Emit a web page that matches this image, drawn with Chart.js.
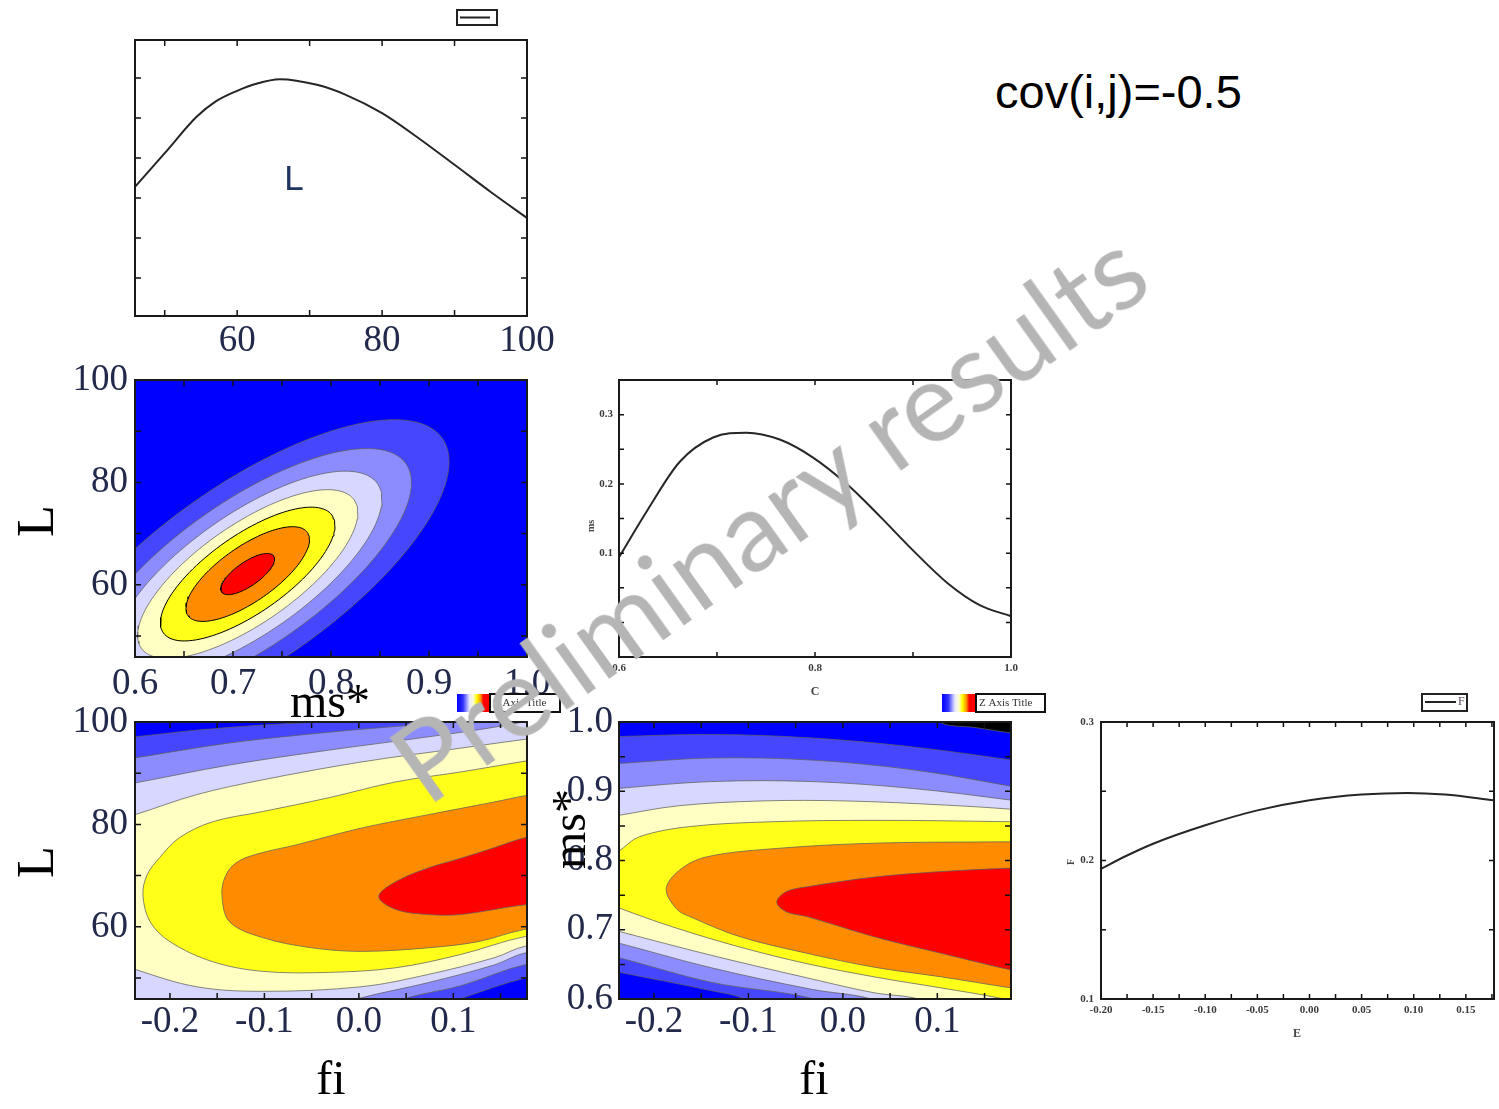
<!DOCTYPE html>
<html>
<head>
<meta charset="utf-8">
<script src="https://cdn.jsdelivr.net/npm/chart.js@4.4.1/dist/chart.umd.min.js"></script>
<style>
body { margin: 0; background: #fff; }
#page { position: relative; width: 1499px; height: 1109px; overflow: hidden; }
.box { position: absolute; }
.box canvas { display: block; }
#cov { position: absolute; left: 995px; top: 68px; font: 47px "Liberation Sans", Arial, sans-serif; line-height: 1; color: #000; white-space: nowrap; z-index: 5; }
#mark { position: absolute; left: 767px; top: 514px; transform: translate(-50%, -50%) rotate(-35.5deg);
        font-family: Lato, "Liberation Sans", sans-serif; font-size: 100px; line-height: 1; color: #b5b5b5;
        white-space: nowrap; z-index: 6; pointer-events: none; }
</style>
</head>
<body>
<div id="page">
  <div class="box" id="b1"><canvas id="c1"></canvas></div>
  <div class="box" id="b2"><canvas id="c2"></canvas></div>
  <div class="box" id="b3"><canvas id="c3"></canvas></div>
  <div class="box" id="b4"><canvas id="c4"></canvas></div>
  <div class="box" id="b5"><canvas id="c5"></canvas></div>
  <div class="box" id="b6"><canvas id="c6"></canvas></div>
  <div id="cov">cov(i,j)=-0.5</div>
  <div id="mark">Preliminary results</div>
</div>
<script>
// marginal of L (top left)
const lValues = [45.9, 50, 54.4, 57, 60, 62.5, 65.9, 71, 75, 80, 85, 90, 95, 100];
const lCurve  = [3.28, 4.12, 5.03, 5.41, 5.68, 5.85, 5.97, 5.83, 5.58, 5.12, 4.5, 3.83, 3.15, 2.5];

// marginal of C / ms (middle)
const cValues = [0.6, 0.629, 0.662, 0.696, 0.730, 0.764, 0.798, 0.833, 0.867, 0.9, 0.935, 0.968, 1.0];
const msCurve = [0.094, 0.162, 0.232, 0.267, 0.274, 0.264, 0.238, 0.199, 0.152, 0.104, 0.057, 0.025, 0.009];

// marginal of E / F (bottom right)
const eValues = [-0.2, -0.175, -0.15, -0.1, -0.05, 0.0, 0.05, 0.094, 0.13, 0.177];
const fCurve  = [0.194, 0.2036, 0.2121, 0.2254, 0.2362, 0.2435, 0.2476, 0.2488, 0.2476, 0.2435];

// contour band colours, outer -> inner
const bandColors = ['#4646ff', '#8c8cff', '#d7d7ff', '#ffffc3', '#ffff1a', '#ff8c00', '#ff0000'];

// ms* vs L : elliptic contours (centre, spreads, correlation, level radii)
const msLCenter = [0.715, 62.1];
const msLSigma = [0.0274, 4.02];
const msLRho = 0.727;
const msLRadii = [7.5, 6.1, 5.0, 4.1, 3.25, 2.3, 1];

// fi vs L : contour outlines, [fi, L], outer -> inner
const fiLContours = [
  [[0.23, 104], [0.23, 51.5], [0.176, 50.0], [0.108, 46.0], [0.06, 43], [-0.26, 43], [-0.26, 96.7], [-0.237, 97.1], [-0.172, 98.4], [-0.102, 99.4], [-0.032, 100.2], [0.05, 102]],
  [[0.23, 104], [0.23, 53.5], [0.176, 52.6], [0.108, 48.5], [0.049, 46.0], [0.01, 43], [-0.26, 43], [-0.26, 92.4], [-0.237, 93.0], [-0.137, 95.9], [-0.032, 98.0], [0.056, 99.4], [0.091, 100], [0.15, 102]],
  [[0.23, 102], [0.23, 55.8], [0.176, 54.9], [0.144, 52.6], [0.0735, 49.1], [0.0, 46.0], [-0.05, 43], [-0.26, 43], [-0.26, 87.4], [-0.237, 88.1], [-0.137, 91.6], [-0.032, 94.5], [0.0735, 97.1], [0.144, 99.0]],
  [[0.23, 98], [0.23, 57], [0.176, 56.2], [0.144, 54.0], [0.0735, 50.7], [0.003, 48.3], [-0.102, 47.4], [-0.172, 48.3], [-0.237, 51.7], [-0.26, 53.5], [-0.26, 80.8], [-0.237, 81.9], [-0.172, 85.8], [-0.102, 88.7], [0.003, 92.2], [0.108, 94.9], [0.171, 96.5]],
  [[0.23, 94], [0.23, 59], [0.176, 58.1], [0.108, 54.6], [0.039, 52.0], [-0.032, 51.1], [-0.102, 51.3], [-0.155, 53.2], [-0.2, 57.1], [-0.221, 61.0], [-0.2286, 66.3], [-0.224, 70.2], [-0.211, 73.5], [-0.19, 77.4], [-0.155, 80.5], [-0.102, 82.5], [-0.032, 85.2], [0.039, 88.3], [0.108, 90.25], [0.171, 92.2]],
  [[0.23, 87], [0.23, 60.5], [0.176, 59.5], [0.126, 57.1], [0.0735, 55.9], [0.003, 55.2], [-0.05, 55.9], [-0.102, 57.9], [-0.137, 61.0], [-0.145, 66.3], [-0.141, 70.0], [-0.13, 72.5], [-0.108, 74.2], [-0.0665, 76.0], [0.003, 79.3], [0.0735, 81.9], [0.144, 84.4], [0.176, 85.6]],
  [[0.23, 79], [0.23, 64.8], [0.176, 64.3], [0.108, 62.4], [0.0735, 62.4], [0.039, 63.4], [0.021, 65.9], [0.039, 68.8], [0.0735, 71.5], [0.108, 73.4], [0.144, 75.5], [0.176, 77.4]]
];

// fi vs ms* : contour outlines, [fi, ms*], outer -> inner (first one is blue over black)
const fiMsContours = [
  [[0.21, 0.57], [-0.26, 0.57], [-0.26, 1.03], [0.09, 1.03], [0.102, 1.0], [0.14, 0.992], [0.179, 0.984], [0.21, 0.978]],
  [[0.21, 0.57], [-0.07, 0.57], [-0.104, 0.6], [-0.139, 0.612], [-0.238, 0.639], [-0.26, 0.645], [-0.26, 0.978], [-0.238, 0.979], [-0.139, 0.982], [-0.033, 0.977], [0.074, 0.964], [0.179, 0.945], [0.21, 0.938]],
  [[0.21, 0.57], [0.0, 0.575], [-0.03, 0.6], [-0.139, 0.624], [-0.238, 0.660], [-0.26, 0.666], [-0.26, 0.938], [-0.238, 0.940], [-0.139, 0.948], [-0.033, 0.945], [0.074, 0.931], [0.179, 0.907], [0.21, 0.898]],
  [[0.21, 0.57], [0.06, 0.578], [0.03, 0.6], [-0.033, 0.614], [-0.139, 0.645], [-0.238, 0.681], [-0.26, 0.688], [-0.26, 0.90], [-0.238, 0.904], [-0.139, 0.914], [-0.033, 0.914], [0.074, 0.904], [0.179, 0.887], [0.21, 0.88]],
  [[0.21, 0.57], [0.11, 0.58], [0.08, 0.6], [0.033, 0.609], [-0.033, 0.629], [-0.139, 0.663], [-0.238, 0.698], [-0.26, 0.706], [-0.26, 0.86], [-0.238, 0.865], [-0.174, 0.879], [-0.086, 0.886], [0.003, 0.886], [0.109, 0.880], [0.179, 0.874], [0.21, 0.87]],
  [[0.21, 0.585], [0.167, 0.601], [0.104, 0.616], [0.033, 0.632], [-0.038, 0.651], [-0.109, 0.675], [-0.18, 0.704], [-0.238, 0.732], [-0.26, 0.745], [-0.26, 0.80], [-0.238, 0.813], [-0.216, 0.834], [-0.162, 0.849], [-0.074, 0.856], [0.033, 0.858], [0.179, 0.856], [0.21, 0.855]],
  [[0.21, 0.61], [0.178, 0.616], [0.104, 0.632], [0.033, 0.646], [-0.038, 0.666], [-0.109, 0.690], [-0.162, 0.719], [-0.176, 0.73], [-0.187, 0.759], [-0.173, 0.786], [-0.145, 0.805], [-0.074, 0.817], [0.033, 0.825], [0.178, 0.827], [0.21, 0.827]],
  [[0.21, 0.635], [0.178, 0.642], [0.104, 0.666], [0.033, 0.690], [-0.038, 0.719], [-0.06, 0.726], [-0.070, 0.740], [-0.06, 0.755], [-0.038, 0.762], [0.033, 0.776], [0.104, 0.784], [0.178, 0.789], [0.21, 0.79]]
];

// axis ranges, ticks and labels
const lRange = [45.9, 100];
const msRange = [0.6, 1.0];
const fiRange = [-0.237, 0.178];
const lTicks = [50, 60, 70, 80, 90, 100];
const lLabels = [60, 80, 100];
const topYTicks = [1, 2, 3, 4, 5, 6];
const msTicks = [0.6, 0.65, 0.7, 0.75, 0.8, 0.85, 0.9, 0.95, 1.0];
const msLabels = [0.6, 0.7, 0.8, 0.9, 1.0];
const fiTicks = [-0.2, -0.15, -0.1, -0.05, 0, 0.05, 0.1, 0.15];
const fiLabels = [-0.2, -0.1, 0, 0.1];
const cTicks = [0.6, 0.7, 0.8, 0.9, 1.0];
const cLabels = [0.6, 0.8, 1.0];
const msMargTicks = [0, 0.05, 0.1, 0.15, 0.2, 0.25, 0.3, 0.35];
const msMargLabels = [0.1, 0.2, 0.3];
const eTicks = [-0.2, -0.175, -0.15, -0.125, -0.1, -0.075, -0.05, -0.025, 0, 0.025, 0.05, 0.075, 0.1, 0.125, 0.15, 0.175];
const eLabels = [-0.2, -0.15, -0.1, -0.05, 0, 0.05, 0.1, 0.15];
const fTicks = [0.1, 0.15, 0.2, 0.25, 0.3];
const fLabels = [0.1, 0.2, 0.3];

const bigTick = { color: '#22294a', font: { family: 'Liberation Serif', size: 37, lineHeight: 1 } };
const smallTick = { color: '#3a3a3a', font: { family: 'Liberation Serif', size: 11, weight: 'bold', lineHeight: 1 } };

function axis(range, ticks, labels, digits, size, pad, style) {
  return {
    type: 'linear', min: range[0], max: range[1],
    afterFit: s => { if (s.isHorizontal()) s.height = size; else s.width = size; },
    afterBuildTicks: s => { s.ticks = ticks.map(v => ({ value: v })); },
    grid: { display: false, drawTicks: false },
    border: { display: false },
    ticks: {
      autoSkip: false, maxRotation: 0, minRotation: 0, padding: pad,
      color: style.color, font: style.font,
      callback: v => labels.some(l => Math.abs(l - v) < 1e-9) ? v.toFixed(digits) : ''
    }
  };
}

function curveSet(xs, ys) {
  return { data: xs.map((x, i) => ({ x, y: ys[i] })), showLine: true, borderColor: '#262626',
           borderWidth: 2, cubicInterpolationMode: 'monotone', pointRadius: 0, fill: false };
}

function bandSet(pts, color, line, order, tension) {
  const data = pts.map(p => ({ x: p[0], y: p[1] }));
  data.push({ x: data[0].x, y: data[0].y });
  return { data, showLine: true, fill: 'shape', backgroundColor: color, borderColor: line,
           borderWidth: 1, tension, pointRadius: 0, clip: 0, order };
}

function ellipse(center, sigma, rho, r) {
  const pts = [];
  for (let k = 0; k < 120; k++) {
    const t = 2 * Math.PI * k / 120;
    pts.push([center[0] + r * sigma[0] * Math.cos(t),
              center[1] + r * sigma[1] * (rho * Math.cos(t) + Math.sqrt(1 - rho * rho) * Math.sin(t))]);
  }
  return pts;
}

const lineGrey = 'rgba(95,95,95,0.75)';

const msLSets = msLRadii.map((r, i) =>
  bandSet(ellipse(msLCenter, msLSigma, msLRho, r), bandColors[i], i >= 4 ? '#000' : lineGrey, msLRadii.length - i, 0));
const fiLSets = fiLContours.map((c, i) => bandSet(c, bandColors[i], lineGrey, fiLContours.length - i, 0.35));
const fiMsColors = ['#0000ff'].concat(bandColors);
const fiMsSets = fiMsContours.map((c, i) => bandSet(c, fiMsColors[i], lineGrey, fiMsContours.length - i, 0.35));

function deco(p) {
  const ox = p.box[0], oy = p.box[1];
  return {
    id: 'deco' + p.id,
    beforeDatasetsDraw(chart) {
      const a = chart.chartArea, ctx = chart.ctx;
      if (p.bg) {
        ctx.save();
        ctx.fillStyle = p.bg;
        ctx.fillRect(a.left, a.top, a.right - a.left, a.bottom - a.top);
        ctx.restore();
      }
    },
    afterDatasetsDraw(chart) {
      const a = chart.chartArea, ctx = chart.ctx;
      const xs = chart.scales.x, ys = chart.scales.y;
      const tl = p.tick;
      ctx.save();
      ctx.strokeStyle = '#111';
      ctx.lineWidth = 1.5;
      ctx.beginPath();
      xs.ticks.forEach(t => {
        const x = xs.getPixelForValue(t.value);
        ctx.moveTo(x, a.bottom); ctx.lineTo(x, a.bottom - tl);
        ctx.moveTo(x, a.top); ctx.lineTo(x, a.top + tl);
      });
      ys.ticks.forEach(t => {
        const y = ys.getPixelForValue(t.value);
        ctx.moveTo(a.left, y); ctx.lineTo(a.left + tl, y);
        ctx.moveTo(a.right, y); ctx.lineTo(a.right - tl, y);
      });
      ctx.stroke();
      ctx.lineWidth = 2;
      ctx.strokeStyle = '#1a1a1a';
      ctx.strokeRect(a.left, a.top, a.right - a.left, a.bottom - a.top);

      if (p.legend) {
        const g = p.legend;
        ctx.lineWidth = 2;
        ctx.strokeStyle = '#222';
        ctx.strokeRect(g.box[0] - ox, g.box[1] - oy, g.box[2] - g.box[0], g.box[3] - g.box[1]);
        ctx.beginPath();
        ctx.moveTo(g.line[0] - ox, g.line[2] - oy); ctx.lineTo(g.line[1] - ox, g.line[2] - oy);
        ctx.stroke();
        if (g.label) {
          ctx.fillStyle = '#5a4a5a';
          ctx.font = '12px "Liberation Serif"';
          ctx.textBaseline = 'middle';
          ctx.textAlign = 'left';
          ctx.fillText(g.label, g.line[1] + 2 - ox, g.line[2] - oy);
        }
      }
      if (p.colorbar) {
        const c = p.colorbar;
        const x0 = c[0] - ox, y0 = c[1] - oy, x1 = c[2] - ox, y1 = c[3] - oy, x2 = c[4] - ox;
        const grad = ctx.createLinearGradient(x0, 0, x1, 0);
        grad.addColorStop(0, '#0000ff');
        grad.addColorStop(0.18, '#3030ff');
        grad.addColorStop(0.38, '#e8e8ff');
        grad.addColorStop(0.5, '#ffffd0');
        grad.addColorStop(0.6, '#ffff00');
        grad.addColorStop(0.72, '#ff9000');
        grad.addColorStop(0.8, '#ff0000');
        grad.addColorStop(1, '#ff0000');
        ctx.fillStyle = grad;
        ctx.fillRect(x0, y0, x1 - x0, y1 - y0);
        ctx.fillStyle = '#fff';
        ctx.fillRect(x1, y0, x2 - x1, y1 - y0);
        ctx.lineWidth = 2;
        ctx.strokeStyle = '#111';
        ctx.strokeRect(x1, y0, x2 - x1, y1 - y0);
        ctx.fillStyle = '#333';
        ctx.font = '11px "Liberation Serif"';
        ctx.textBaseline = 'middle';
        ctx.textAlign = 'left';
        ctx.fillText('Z Axis Title', x1 + 3, (y0 + y1) / 2);
      }
      (p.texts || []).forEach(t => {
        ctx.save();
        ctx.translate(t.x - ox, t.y - oy);
        if (t.rot) ctx.rotate(t.rot);
        ctx.font = t.font;
        ctx.fillStyle = t.color || '#000';
        ctx.textAlign = 'center';
        ctx.textBaseline = 'alphabetic';
        ctx.fillText(t.t, 0, 0);
        ctx.restore();
      });
      ctx.restore();
    }
  };
}

const titleFont = '48px "Liberation Serif"';
const up = -Math.PI / 2;

const panels = [
  { id: 1, box: [0, 0, 565, 372], area: [135, 40, 527, 316], tick: 6,
    x: axis(lRange, lTicks, lLabels, 0, 56, 7, bigTick),
    y: axis([0.05, 6.95], topYTicks, [], 0, 135, 7, bigTick),
    datasets: [curveSet(lValues, lCurve)],
    legend: { box: [457, 10, 497, 25], line: [460, 490, 17.5] },
    texts: [{ t: 'L', x: 294, y: 190, font: '35px "Liberation Sans"', color: '#1d3461' }] },
  { id: 2, box: [0, 335, 565, 728], area: [135, 380, 527, 657], tick: 6, bg: '#0000ff',
    x: axis(msRange, msTicks, msLabels, 1, 71, 9, bigTick),
    y: axis(lRange, lTicks, lLabels, 0, 135, 7, bigTick),
    datasets: msLSets,
    texts: [{ t: 'L', x: 53, y: 521, rot: up, font: '52px "Liberation Serif"' },
            { t: 'ms*', x: 330, y: 717, font: titleFont }] },
  { id: 3, box: [560, 362, 1050, 705], area: [619, 380, 1011, 657], tick: 5,
    x: axis([0.6, 1.0], cTicks, cLabels, 1, 48, 6, smallTick),
    y: axis([-0.05, 0.35], msMargTicks, msMargLabels, 1, 59, 6, smallTick),
    datasets: [curveSet(cValues, msCurve)],
    texts: [{ t: 'C', x: 815, y: 695, font: 'bold 12px "Liberation Serif"', color: '#444' },
            { t: 'ms', x: 594, y: 526, rot: up, font: 'bold 10px "Liberation Serif"', color: '#444' }] },
  { id: 4, box: [0, 680, 565, 1109], area: [135, 722, 527, 999], tick: 6, bg: '#0000ff',
    x: axis(fiRange, fiTicks, fiLabels, 1, 110, 5, bigTick),
    y: axis(lRange, lTicks, lLabels, 0, 135, 7, bigTick),
    datasets: fiLSets,
    colorbar: [457, 694, 490, 712, 560],
    texts: [{ t: 'L', x: 53, y: 862, rot: up, font: '52px "Liberation Serif"' },
            { t: 'fi', x: 331, y: 1094, font: titleFont }] },
  { id: 5, box: [540, 680, 1060, 1109], area: [619, 722, 1011, 999], tick: 6, bg: '#000000',
    x: axis(fiRange, fiTicks, fiLabels, 1, 110, 5, bigTick),
    y: axis(msRange, msTicks, msLabels, 1, 79, 6, bigTick),
    datasets: fiMsSets,
    colorbar: [942, 694, 976, 712, 1045],
    texts: [{ t: 'ms*', x: 585, y: 829, rot: up, font: titleFont },
            { t: 'fi', x: 814, y: 1094, font: titleFont }] },
  { id: 6, box: [1050, 680, 1499, 1060], area: [1101, 722, 1494, 999], tick: 5,
    x: axis([-0.2, 0.177], eTicks, eLabels, 2, 61, 6, smallTick),
    y: axis([0.1, 0.3], fTicks, fLabels, 1, 51, 7, smallTick),
    datasets: [curveSet(eValues, fCurve)],
    legend: { box: [1422, 694, 1467, 711], line: [1425, 1456, 702], label: 'F' },
    texts: [{ t: 'E', x: 1297, y: 1037, font: 'bold 12px "Liberation Serif"', color: '#444' },
            { t: 'F', x: 1074, y: 862, rot: up, font: 'bold 10px "Liberation Serif"', color: '#444' }] }
];

panels.forEach(p => {
  const [cl, ct, cr, cb] = p.box;
  const [L, T, R, B] = p.area;
  const holder = document.getElementById('b' + p.id);
  holder.style.left = cl + 'px';
  holder.style.top = ct + 'px';
  const canvas = document.getElementById('c' + p.id);
  canvas.width = cr - cl;
  canvas.height = cb - ct;
  new Chart(canvas, {
    type: 'scatter',
    data: { datasets: p.datasets },
    options: {
      responsive: false, animation: false, devicePixelRatio: 1,
      layout: { padding: { left: 0, top: T - ct, right: cr - R, bottom: 0 } },
      plugins: { legend: { display: false }, tooltip: { enabled: false } },
      elements: { point: { radius: 0 }, line: { capBezierPoints: false } },
      scales: { x: p.x, y: p.y }
    },
    plugins: [deco(p)]
  });
});

const mark = document.getElementById('mark');
mark.style.fontSize = (100 * 895 / mark.offsetWidth) + 'px';
</script>
</body>
</html>
